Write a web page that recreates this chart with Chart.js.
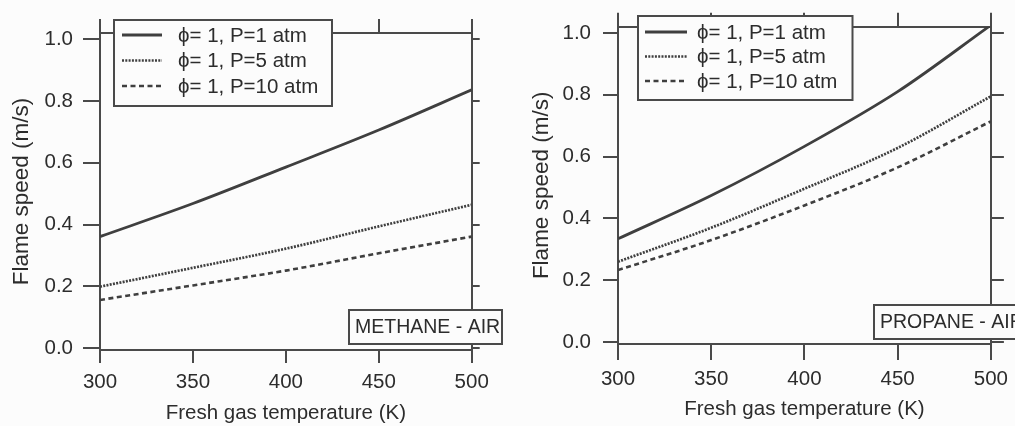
<!DOCTYPE html>
<html lang="en">
<head>
  <meta charset="UTF-8" />
  <title>Flame speed vs fresh gas temperature</title>
  <script src="https://cdn.jsdelivr.net/npm/chart.js"></script>
  <style>
    body {
      margin: 0;
      background: #fcfcfc;
      font-family: 'Liberation Sans', Arial, sans-serif;
    }
    .panel {
      position: absolute;
      top: 0;
    }
  </style>
</head>
<body>
  <div class="panel" style="left:0"><canvas id="methane" width="510" height="426"></canvas></div>
  <div class="panel" style="left:510px"><canvas id="propane" width="505" height="426"></canvas></div>
  <script>
    const temps = [300, 350, 400, 450, 500];
    const xTicks = [300, 350, 400, 450, 500];
    const yTicks = [0, 0.2, 0.4, 0.6, 0.8, 1.0];
    const seriesLabels = ['ϕ= 1, P=1 atm', 'ϕ= 1, P=5 atm', 'ϕ= 1, P=10 atm'];

    // methane - air
    const methaneP1 = [0.361, 0.468, 0.586, 0.706, 0.836];
    const methaneP5 = [0.199, 0.260, 0.322, 0.394, 0.464];
    const methaneP10 = [0.156, 0.203, 0.251, 0.307, 0.361];

    // propane - air
    const propaneP1 = [0.334, 0.474, 0.633, 0.810, 1.025];
    const propaneP5 = [0.260, 0.370, 0.496, 0.628, 0.795];
    const propaneP10 = [0.233, 0.330, 0.442, 0.565, 0.714];

    const ink = '#3f3f3f';
    const frame = '#4a4a4a';
    const textCol = '#2c2c2c';
    const fontFamily = "'Liberation Sans', Arial, sans-serif";
    const styles = [
      { width: 2.8, dash: [] },
      { width: 2.7, dash: [2, 1.3] },
      { width: 2.6, dash: [5, 3.5] }
    ];

    // legend box drawn over the top frame, like the printed figure
    const boxLegend = {
      id: 'boxLegend',
      afterDraw(chart, args, o) {
        const ctx = chart.ctx;
        ctx.save();
        ctx.fillStyle = '#fcfcfc';
        ctx.fillRect(o.x, o.y, o.w, o.h);
        ctx.strokeStyle = frame;
        ctx.lineWidth = 2;
        ctx.strokeRect(o.x, o.y, o.w, o.h);
        ctx.font = '20.5px ' + fontFamily;
        ctx.fillStyle = textCol;
        ctx.textBaseline = 'middle';
        chart.data.datasets.forEach((ds, i) => {
          const y = o.y + o.first + i * o.step;
          ctx.beginPath();
          ctx.strokeStyle = ds.borderColor;
          ctx.lineWidth = ds.borderWidth;
          ctx.setLineDash(ds.borderDash || []);
          ctx.moveTo(o.lineX, y);
          ctx.lineTo(o.lineX + o.lineW, y);
          ctx.stroke();
          ctx.setLineDash([]);
          ctx.fillText(ds.label, o.textX, y + 1);
        });
        ctx.restore();
      }
    };

    const tagBox = {
      id: 'tagBox',
      afterDraw(chart, args, o) {
        const ctx = chart.ctx;
        ctx.save();
        ctx.fillStyle = '#fcfcfc';
        ctx.fillRect(o.x, o.y, o.w, o.h);
        ctx.strokeStyle = frame;
        ctx.lineWidth = 2;
        ctx.strokeRect(o.x, o.y, o.w, o.h);
        ctx.font = '19.5px ' + fontFamily;
        ctx.fillStyle = textCol;
        ctx.textBaseline = 'middle';
        ctx.fillText(o.text, o.x + 6, o.y + o.h / 2 + 1);
        ctx.restore();
      }
    };

    function fixTicks(values) {
      return scale => { scale.ticks = values.map(v => ({ value: v })); };
    }

    function makeChart(id, series, lay) {
      const datasets = series.map((vals, i) => ({
        label: seriesLabels[i],
        data: temps.map((t, k) => ({ x: t, y: vals[k] })),
        borderColor: ink,
        borderWidth: styles[i].width,
        borderDash: styles[i].dash,
        pointRadius: 0,
        cubicInterpolationMode: 'monotone',
        fill: false
      }));
      const tickFont = { family: fontFamily, size: 20.5 };
      return new Chart(document.getElementById(id), {
        type: 'line',
        data: { datasets },
        options: {
          responsive: false,
          devicePixelRatio: 1,
          animation: false,
          events: [],
          layout: { padding: 0 },
          plugins: {
            legend: { display: false },
            tooltip: { enabled: false },
            boxLegend: lay.legend,
            tagBox: lay.tag
          },
          scales: {
            x: {
              type: 'linear', position: 'bottom', min: 300, max: 500,
              afterBuildTicks: fixTicks(xTicks),
              afterFit: s => { s.height = lay.bottom; },
              ticks: { font: tickFont, color: textCol, padding: lay.xPad, maxRotation: 0 },
              grid: { drawOnChartArea: false, tickLength: lay.xTick, color: frame, lineWidth: 2 },
              border: { color: frame, width: 2 },
              title: { display: true, text: 'Fresh gas temperature (K)', font: { family: fontFamily, size: 20.5 }, color: textCol, padding: { top: 0, bottom: lay.xTitlePad } }
            },
            xTop: {
              type: 'linear', axis: 'x', position: 'top', min: 300, max: 500,
              afterBuildTicks: fixTicks(xTicks),
              afterFit: s => { s.height = lay.top; },
              ticks: { display: false },
              grid: { drawOnChartArea: false, tickLength: 14, color: frame, lineWidth: 2 },
              border: { color: frame, width: 2 }
            },
            y: {
              type: 'linear', position: 'left', min: -0.006, max: 1.02,
              afterBuildTicks: fixTicks(yTicks),
              afterFit: s => { s.width = lay.left; },
              ticks: { font: tickFont, color: textCol, padding: lay.yPad, callback: v => v.toFixed(1) },
              grid: { drawOnChartArea: false, tickLength: lay.yTick, color: frame, lineWidth: 2 },
              border: { color: frame, width: 2 },
              title: { display: true, text: 'Flame speed (m/s)', font: { family: fontFamily, size: 22.5 }, color: textCol, padding: { top: lay.yTitlePad, bottom: 0 } }
            },
            yRight: {
              type: 'linear', axis: 'y', position: 'right', min: -0.006, max: 1.02,
              afterBuildTicks: fixTicks(yTicks),
              afterFit: s => { s.width = lay.right; },
              ticks: { display: false },
              grid: { drawOnChartArea: false, tickLength: lay.rTick, color: frame, lineWidth: 2 },
              border: { color: frame, width: 2 }
            }
          }
        },
        plugins: [boxLegend, tagBox]
      });
    }

    makeChart('methane', [methaneP1, methaneP5, methaneP10], {
      left: 100, right: 38.3, top: 33, bottom: 76,
      xTick: 13, yTick: 17, rTick: 8, xPad: 7, yPad: 10, xTitlePad: 0, yTitlePad: 8.5,
      legend: { x: 114, y: 20, w: 218, h: 86, first: 15, step: 25.5, lineX: 122, lineW: 40, textX: 178 },
      tag: { x: 349, y: 310, w: 153, h: 34, text: 'METHANE - AIR' }
    });

    makeChart('propane', [propaneP1, propaneP5, propaneP10], {
      left: 108, right: 21.7, top: 26.7, bottom: 82,
      xTick: 16, yTick: 15, rTick: 13, xPad: 7, yPad: 12, xTitlePad: 4.5, yTitlePad: 18.5,
      legend: { x: 128, y: 16, w: 214.5, h: 84, first: 16, step: 24.5, lineX: 135, lineW: 42, textX: 187 },
      tag: { x: 364, y: 305, w: 160, h: 34, text: 'PROPANE - AIR' }
    });
  </script>
</body>
</html>
